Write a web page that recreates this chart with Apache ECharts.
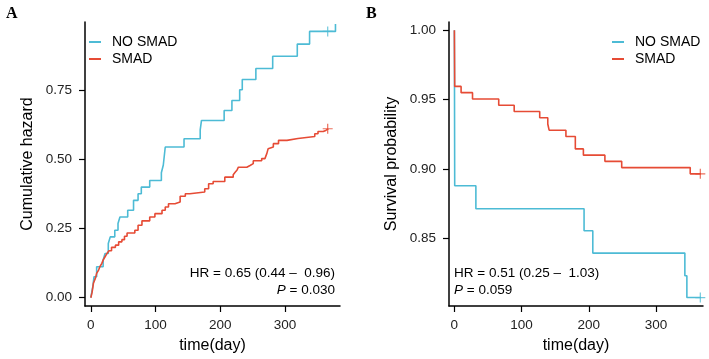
<!DOCTYPE html>
<html>
<head>
<meta charset="utf-8">
<script src="https://cdn.jsdelivr.net/npm/echarts@6/dist/echarts.min.js"></script>
<style>
  html, body { margin: 0; padding: 0; background: #fff; }
  #chart { width: 709px; height: 359px; }
</style>
</head>
<body>
<div id="chart"></div>
<script>
const FONT = "Liberation Sans, Arial, Helvetica, sans-serif"
const BLUE = "#4DBBD5"
const RED = "#E64B35"

const groups = ["NO SMAD", "SMAD"]
const xTicks = [0, 100, 200, 300]
const hazardTicks = [0, 0.25, 0.5, 0.75]
const survivalTicks = [0.85, 0.9, 0.95, 1.0]

// panel A: cumulative hazard, [day, value]
const hazardNoSmad = [
  [0, 0], [3, 0.04], [5, 0.076], [9, 0.112], [19, 0.136], [22, 0.16], [27, 0.196],
  [30, 0.22], [37, 0.244], [42, 0.268], [45, 0.292], [57, 0.316], [66, 0.352],
  [73, 0.376], [78, 0.40], [91, 0.424], [109, 0.452], [112, 0.48], [115, 0.545],
  [144, 0.575], [169, 0.607], [171, 0.641], [206, 0.677], [218, 0.713], [230, 0.752],
  [234, 0.789], [255, 0.829], [281, 0.873], [319, 0.917], [338, 0.963], [378, 0.99]
]
const hazardSmad = [
  [0, 0], [2, 0.02], [4, 0.052], [7, 0.07], [9, 0.088], [12, 0.1], [14, 0.112],
  [17, 0.124], [19, 0.136], [22, 0.148], [25, 0.16], [28, 0.17], [32, 0.182],
  [38, 0.19], [43, 0.202], [48, 0.21], [52, 0.222], [56, 0.234], [68, 0.244],
  [73, 0.262], [79, 0.278], [91, 0.292], [99, 0.304], [110, 0.316], [115, 0.328],
  [120, 0.34], [130, 0.346], [138, 0.367], [146, 0.376], [153, 0.382], [176, 0.394],
  [182, 0.412], [189, 0.42], [207, 0.436], [220, 0.445], [223, 0.454], [226, 0.462],
  [228, 0.472], [241, 0.478], [246, 0.485], [251, 0.495], [264, 0.503], [269, 0.508],
  [272, 0.522], [274, 0.539], [277, 0.545], [282, 0.557], [290, 0.569], [303, 0.576],
  [320, 0.583], [346, 0.593], [351, 0.601], [359, 0.605], [363, 0.611], [367, 0.611]
]
const hazardCensorNoSmad = [[366, 0.963]]
const hazardCensorSmad = [[366, 0.611]]

// panel B: survival probability, [day, value]
const survivalNoSmad = [
  [0, 1], [0.5, 0.8878], [32, 0.8712], [193, 0.8553], [206, 0.8392],
  [343, 0.8228], [346, 0.8071], [367, 0.8071]
]
const survivalSmad = [
  [0, 1], [0.5, 0.9595], [10, 0.955], [27, 0.9504], [66, 0.9459], [89, 0.9414],
  [127, 0.9369], [139, 0.9324], [141, 0.9279], [166, 0.9234], [180, 0.9144],
  [192, 0.9099], [224, 0.9054], [249, 0.9009], [351, 0.8964], [367, 0.8964]
]
const survivalCensorNoSmad = [[366, 0.8071]]
const survivalCensorSmad = [[366, 0.8964]]

const PLUS = "path://M-0.12,-1H0.12V-0.12H1V0.12H0.12V1H-0.12V0.12H-1V-0.12H-0.12Z"

function xAxis(gridIndex, min, max) {
  return {
    gridIndex, type: "value", min, max,
    name: "time(day)", nameLocation: "middle", nameGap: 32,
    nameTextStyle: { fontFamily: FONT, fontSize: 16, color: "#000" },
    axisLine: { onZero: false, lineStyle: { color: "#000", width: 1.5 } },
    axisTick: { show: true, length: 6, customValues: xTicks, lineStyle: { color: "#000", width: 1.2 } },
    axisLabel: { customValues: xTicks, margin: 12, fontFamily: FONT, fontSize: 13.5, color: "#222" },
    splitLine: { show: false }
  }
}

function yAxis(gridIndex, min, max, ticks, name) {
  return {
    gridIndex, type: "value", min, max,
    name, nameLocation: "middle", nameGap: 49,
    nameTextStyle: { fontFamily: FONT, fontSize: 16, color: "#000" },
    axisLine: { onZero: false, lineStyle: { color: "#000", width: 1.5 } },
    axisTick: { show: true, length: 6, customValues: ticks, lineStyle: { color: "#000", width: 1.2 } },
    axisLabel: {
      customValues: ticks, margin: 13, fontFamily: FONT, fontSize: 13.5, color: "#222",
      formatter: v => v.toFixed(2)
    },
    splitLine: { show: false }
  }
}

function curve(name, data, color, axis) {
  return {
    name, type: "line", data, step: "end", showSymbol: false, silent: true,
    xAxisIndex: axis, yAxisIndex: axis,
    lineStyle: { color, width: 1.6 }, itemStyle: { color }
  }
}

function censor(name, data, color, axis) {
  return {
    name, type: "scatter", data, symbol: PLUS, symbolSize: 10, silent: true,
    xAxisIndex: axis, yAxisIndex: axis,
    itemStyle: { color }
  }
}

function legend(left) {
  return {
    data: groups, orient: "vertical", left, top: 34, padding: 0, icon: "rect",
    itemWidth: 12, itemHeight: 2, itemGap: 1, selectedMode: false,
    textStyle: { fontFamily: FONT, fontSize: 14, color: "#000", lineHeight: 16, padding: [0, 0, 0, 6] }
  }
}

const rich = { i: { fontFamily: FONT, fontSize: 13.5, fontStyle: "italic", fill: "#000" } }

function note(x, y, text, align) {
  return {
    type: "text", x, y,
    style: { text, fontFamily: FONT, fontSize: 13.5, fill: "#000", align, verticalAlign: "middle", rich }
  }
}

const chart = echarts.init(document.getElementById("chart"), null, { renderer: "canvas" })
chart.setOption({
  animation: false,
  backgroundColor: "#fff",
  grid: [
    { left: 85, right: 369, top: 22, bottom: 53 },
    { left: 449, right: 6, top: 22, bottom: 53 }
  ],
  xAxis: [xAxis(0, -9, 385), xAxis(1, -8, 370)],
  yAxis: [
    yAxis(0, -0.03, 0.997, hazardTicks, "Cumulative hazard"),
    yAxis(1, 0.801, 1.006, survivalTicks, "Survival probability")
  ],
  legend: [legend(89), legend(612)],
  series: [
    curve("NO SMAD", hazardNoSmad, BLUE, 0),
    curve("SMAD", hazardSmad, RED, 0),
    censor("a-censor-blue", hazardCensorNoSmad, BLUE, 0),
    censor("a-censor-red", hazardCensorSmad, RED, 0),
    curve("NO SMAD", survivalNoSmad, BLUE, 1),
    curve("SMAD", survivalSmad, RED, 1),
    censor("b-censor-blue", survivalCensorNoSmad, BLUE, 1),
    censor("b-censor-red", survivalCensorSmad, RED, 1)
  ],
  graphic: [
    { type: "text", x: 6, y: 6, style: { text: "A", fontFamily: "Liberation Serif, Times New Roman, serif", fontWeight: "bold", fontSize: 16, fill: "#000" } },
    { type: "text", x: 366, y: 6, style: { text: "B", fontFamily: "Liberation Serif, Times New Roman, serif", fontWeight: "bold", fontSize: 16, fill: "#000" } },
    note(335, 273, "HR = 0.65 (0.44 \u2013  0.96)", "right"),
    note(335, 290, "{i|P} = 0.030", "right"),
    note(454, 273, "HR = 0.51 (0.25 \u2013  1.03)", "left"),
    note(454, 290, "{i|P} = 0.059", "left")
  ]
})
</script>
</body>
</html>
